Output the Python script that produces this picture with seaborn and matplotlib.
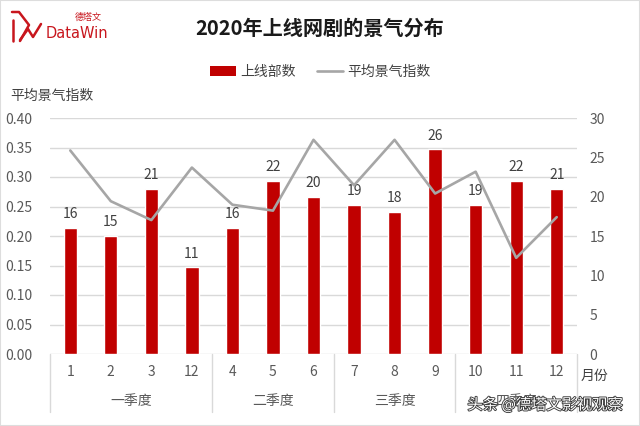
import matplotlib
matplotlib.use("Agg")
import matplotlib.pyplot as plt
import seaborn as sns
import numpy as np
import pandas as pd
from matplotlib.lines import Line2D
from matplotlib.patches import Rectangle, Patch
import matplotlib.patheffects as pe

# ---------------- data ----------------
months = ["1", "2", "3", "12", "4", "5", "6", "7", "8", "9", "10", "11", "12"]
quarters = ["一季度", "二季度", "三季度", "四季度"]
quarter_sizes = [4, 3, 3, 3]
shows = [16, 15, 21, 11, 16, 22, 20, 19, 18, 26, 19, 22, 21]
index_vals = [0.345, 0.259, 0.227, 0.316, 0.253, 0.243, 0.363,
              0.286, 0.363, 0.272, 0.309, 0.163, 0.232]
left_ticks = [0.00, 0.05, 0.10, 0.15, 0.20, 0.25, 0.30, 0.35, 0.40]
right_ticks = [0, 5, 10, 15, 20, 25, 30]

sns.set_theme(style="white")
plt.rcParams["font.family"] = ["Noto Sans CJK SC", "DejaVu Sans"]

W, H = 640, 426
fig = plt.figure(figsize=(6.4, 4.26), dpi=100)
fig.patch.set_facecolor("white")

def fx(px):
    return px / W

def fy(py):
    return 1 - py / H

ax_l, ax_r, ax_t, ax_b = 50, 577, 118, 354
ax2 = fig.add_axes([fx(ax_l), fy(ax_b), fx(ax_r - ax_l), (ax_b - ax_t) / H])  # bars (right scale)
ax = ax2.twinx()  # line (left scale), drawn on top

pos = np.arange(len(months))
df = pd.DataFrame({"pos": pos, "shows": shows, "idx": index_vals})

grid_c = "#D9D9D9"
text_c = "#595959"

# gridlines (at left-scale ticks) behind bars
for t in left_ticks:
    ax2.axhline(t / 0.40 * 30, color=grid_c, lw=1, zorder=0)

sns.barplot(data=df, x="pos", y="shows", ax=ax2, color="#C00000",
            width=0.33, saturation=1, zorder=2)
for c in ax2.containers:
    ax2.bar_label(c, labels=[str(v) for v in shows], padding=5,
                  fontsize=10, color="#404040")

sns.lineplot(data=df, x="pos", y="idx", ax=ax, color="#A6A6A6",
             linewidth=1.9, zorder=3)

for a in (ax, ax2):
    a.set_xlim(-0.5, len(months) - 0.5)
    for s in a.spines.values():
        s.set_visible(False)
    a.set_xlabel("")
    a.set_ylabel("")
    a.grid(False)

ax2.set_ylim(0, 30)
ax.set_ylim(0, 0.40)

ax2.yaxis.tick_right()
ax2.set_yticks(right_ticks)
ax2.set_yticklabels([str(t) for t in right_ticks])
ax2.tick_params(axis="y", length=0, pad=9, labelsize=10, labelcolor=text_c,
                labelright=True, labelleft=False)

ax.yaxis.tick_left()
ax.set_yticks(left_ticks)
ax.set_yticklabels([f"{t:.2f}" for t in left_ticks])
ax.tick_params(axis="y", length=0, pad=13, labelsize=10, labelcolor=text_c,
               labelleft=True, labelright=False)

ax.set_xticks([])
ax2.set_xticks([])

# category labels
h_ax = ax_b - ax_t
for p, m in zip(pos, months):
    ax.text(p, (ax_b - 372) / h_ax, m, transform=ax.get_xaxis_transform(),
            ha="center", va="center", fontsize=10, color=text_c)

# quarter labels and separators
bounds = [-0.5]
for n in quarter_sizes:
    bounds.append(bounds[-1] + n)
for q, a0, a1 in zip(quarters, bounds[:-1], bounds[1:]):
    ax.text((a0 + a1) / 2, (ax_b - 401) / h_ax, q, transform=ax.get_xaxis_transform(),
            ha="center", va="center", fontsize=10, color=text_c)
for b in bounds:
    ax.plot([b, b], [0, (ax_b - 412) / h_ax], transform=ax.get_xaxis_transform(),
            color=grid_c, lw=1, clip_on=False)

# axis titles
fig.text(fx(10), fy(96), "平均景气指数", ha="left", va="center", fontsize=10, color="#404040")
fig.text(fx(581), fy(376), "月份", ha="left", va="center", fontsize=10, color="#404040")

# title
fig.text(fx(320), fy(28), "2020年上线网剧的景气分布", ha="center", va="center",
         fontsize=14.5, fontweight="bold", color="#1A1A1A")

# legend
handles = [Patch(facecolor="#C00000", edgecolor="none"),
           Line2D([], [], color="#A6A6A6", lw=1.9)]
fig.legend(handles, ["上线部数", "平均景气指数"], loc="center",
           bbox_to_anchor=(fx(320), fy(72)), ncol=2, frameon=False,
           fontsize=10, labelcolor="#404040", handlelength=1.9,
           handleheight=0.7, handletextpad=0.3, columnspacing=1.5)

# logo
red = "#C8161D"
def fline(xs, ys, **kw):
    fig.add_artist(Line2D([fx(x) for x in xs], [fy(y) for y in ys],
                          transform=fig.transFigure, color=red, **kw))
fline([12, 19, 29, 20], [12, 12, 25, 41], lw=1.8)
fline([13, 13], [20, 41], lw=1.8)
fline([20, 28, 33, 41], [40, 29, 37, 24], lw=1.8)
fig.text(fx(46), fy(34), "DataWin", ha="left", va="center", fontsize=10.5,
         color=red, family=["DejaVu Sans"])
fig.text(fx(88), fy(17), "德塔文", ha="center", va="center", fontsize=6.5, color=red)

# watermark
fig.text(fx(545), fy(405), "头条 @德塔文影视观察", ha="center", va="center",
         fontsize=11, color="white",
         path_effects=[pe.withStroke(linewidth=1.3, foreground="#3A3A3A")])

# border
fig.add_artist(Rectangle((0, 0), 1, 1, transform=fig.transFigure, fill=False,
                         edgecolor="#DDDDDD", lw=1.5))

fig.savefig("out.png", dpi=100)
